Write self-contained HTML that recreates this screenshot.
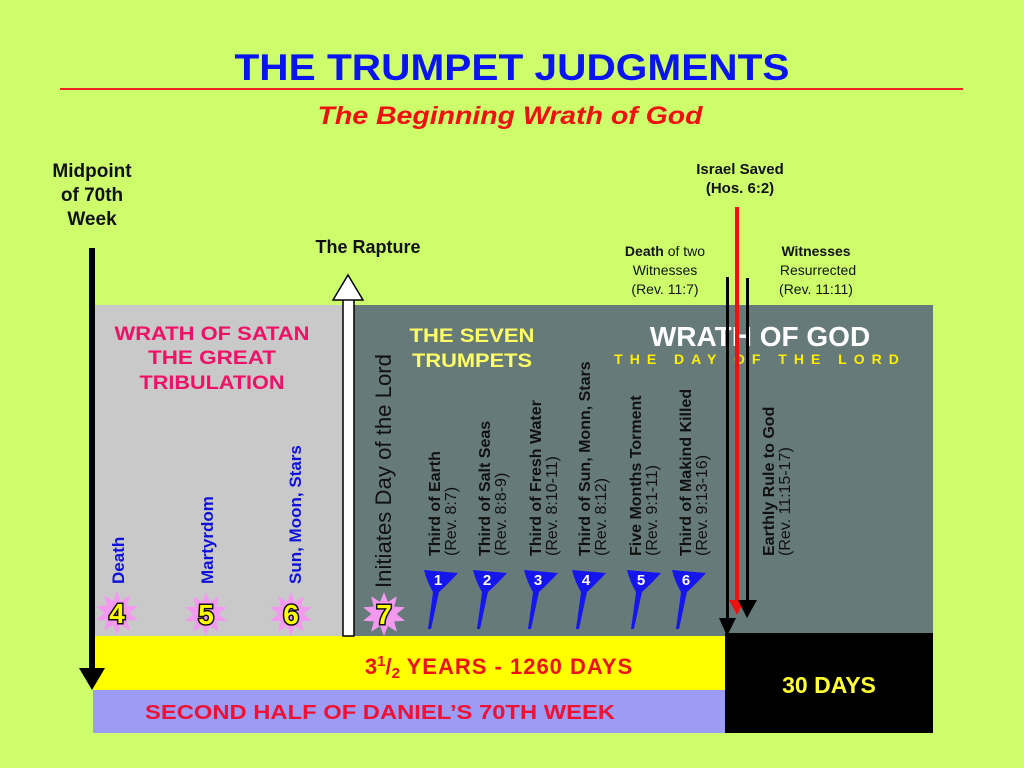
<!DOCTYPE html>
<html><head><meta charset="utf-8"><style>
html,body{margin:0;padding:0;background:#cdfd6a;}
svg{display:block;font-family:"Liberation Sans",Arial,sans-serif;}
</style></head><body>
<svg width="1024" height="768" viewBox="0 0 1024 768" xmlns="http://www.w3.org/2000/svg">
<defs>
<polygon id="star" points="0,-22 3.9,-12 12.9,-17.8 10.2,-7.4 20.9,-6.8 12.6,0 20.9,6.8 10.2,7.4 12.9,17.8 3.9,12 0,22 -3.9,12 -12.9,17.8 -10.2,7.4 -20.9,6.8 -12.6,0 -20.9,-6.8 -10.2,-7.4 -12.9,-17.8 -3.9,-12" fill="#f39af0"/>
<path id="flag" d="M0,0 L34,3 Q24,14 15,22 L7,59 L4,59 Q7,38 9,22 Q3,12 0,0 Z" fill="#1515ee"/>
</defs>
<rect width="1024" height="768" fill="#cdfd6a"/>
<text x="512" y="80" text-anchor="middle" font-size="37" font-weight="bold" fill="#0a14ee" textLength="555" lengthAdjust="spacingAndGlyphs">THE TRUMPET JUDGMENTS</text>
<rect x="60" y="88" width="903" height="2" fill="#ee2222"/>
<text x="510" y="124" text-anchor="middle" font-size="25" font-weight="bold" font-style="italic" fill="#ee1111" textLength="385" lengthAdjust="spacingAndGlyphs">The Beginning Wrath of God</text>

<g font-size="19" font-weight="bold" fill="#111" text-anchor="middle">
<text x="92" y="177">Midpoint</text><text x="92" y="201">of 70th</text><text x="92" y="225">Week</text>
<text x="368" y="253" font-size="18">The Rapture</text>
</g>
<g font-size="15" font-weight="bold" fill="#111" text-anchor="middle">
<text x="740" y="174">Israel Saved</text><text x="740" y="193">(Hos. 6:2)</text>
</g>
<g font-size="14" fill="#111" text-anchor="middle">
<text x="665" y="256"><tspan font-weight="bold">Death</tspan> of two</text>
<text x="665" y="275">Witnesses</text><text x="665" y="294">(Rev. 11:7)</text>
<text x="816" y="256" font-weight="bold">Witnesses</text>
<text x="818" y="275">Resurrected</text><text x="816" y="294">(Rev. 11:11)</text>
</g>

<rect x="93" y="305" width="252" height="331" fill="#c9c9c9"/>
<rect x="345" y="305" width="588" height="331" fill="#667a7a"/>
<rect x="93" y="636" width="632" height="54" fill="#ffff00"/>
<rect x="93" y="690" width="632" height="43" fill="#9c9cf4"/>
<rect x="725" y="633" width="208" height="100" fill="#000"/>

<g font-size="19" font-weight="bold" fill="#ee1166" text-anchor="middle" lengthAdjust="spacingAndGlyphs">
<text x="212" y="340" textLength="195" lengthAdjust="spacingAndGlyphs">WRATH OF SATAN</text><text x="212" y="364" textLength="128" lengthAdjust="spacingAndGlyphs">THE GREAT</text><text x="212" y="389" textLength="145" lengthAdjust="spacingAndGlyphs">TRIBULATION</text>
</g>
<g font-size="19" font-weight="bold" fill="#ffff66" text-anchor="middle">
<text x="472" y="342" textLength="125" lengthAdjust="spacingAndGlyphs">THE SEVEN</text><text x="472" y="367" textLength="120" lengthAdjust="spacingAndGlyphs">TRUMPETS</text>
</g>
<text x="760" y="346" text-anchor="middle" font-size="28" font-weight="bold" fill="#fff">WRATH OF GOD</text>
<text x="760" y="364" text-anchor="middle" font-size="14" font-weight="bold" fill="#ffee00" letter-spacing="7">THE DAY OF THE LORD</text>

<g font-size="17" font-weight="bold" fill="#1010dd">
<text transform="translate(124,584) rotate(-90)">Death</text>
<text transform="translate(213,584) rotate(-90)">Martyrdom</text>
<text transform="translate(301,584) rotate(-90)">Sun, Moon, Stars</text>
</g>
<text transform="translate(391,588) rotate(-90)" font-size="22" fill="#111" textLength="234" lengthAdjust="spacingAndGlyphs">Initiates Day of the Lord</text>

<g font-size="16" fill="#111">
<g transform="translate(440,556) rotate(-90)"><text font-weight="bold">Third of Earth</text><text y="16">(Rev. 8:7)</text></g>
<g transform="translate(490,556) rotate(-90)"><text font-weight="bold">Third of Salt Seas</text><text y="16">(Rev. 8:8-9)</text></g>
<g transform="translate(541,556) rotate(-90)"><text font-weight="bold">Third of Fresh Water</text><text y="16">(Rev. 8:10-11)</text></g>
<g transform="translate(590,556) rotate(-90)"><text font-weight="bold">Third of Sun, Monn, Stars</text><text y="16">(Rev. 8:12)</text></g>
<g transform="translate(641,556) rotate(-90)"><text font-weight="bold">Five Months Torment</text><text y="16">(Rev. 9:1-11)</text></g>
<g transform="translate(691,556) rotate(-90)"><text font-weight="bold">Third of Makind Killed</text><text y="16">(Rev. 9:13-16)</text></g>
<g transform="translate(774,556) rotate(-90)"><text font-weight="bold">Earthly Rule to God</text><text y="16">(Rev. 11:15-17)</text></g>
</g>

<g font-size="15" font-weight="bold" fill="#fff" text-anchor="middle">
<g transform="translate(424,570)"><use href="#flag"/><text x="14" y="15">1</text></g>
<g transform="translate(473,570)"><use href="#flag"/><text x="14" y="15">2</text></g>
<g transform="translate(524,570)"><use href="#flag"/><text x="14" y="15">3</text></g>
<g transform="translate(572,570)"><use href="#flag"/><text x="14" y="15">4</text></g>
<g transform="translate(627,570)"><use href="#flag"/><text x="14" y="15">5</text></g>
<g transform="translate(672,570)"><use href="#flag"/><text x="14" y="15">6</text></g>
</g>

<g font-size="28" font-weight="bold" fill="#ffff00" stroke="#111" stroke-width="3" text-anchor="middle" paint-order="stroke">
<g transform="translate(117,613)"><use href="#star" stroke="none"/><text y="10">4</text></g>
<g transform="translate(206,614)"><use href="#star" stroke="none"/><text y="10">5</text></g>
<g transform="translate(291,614)"><use href="#star" stroke="none"/><text y="10">6</text></g>
<g transform="translate(384,614)"><use href="#star" stroke="none"/><text y="10">7</text></g>
</g>

<rect x="89" y="248" width="6" height="425" fill="#000"/>
<polygon points="79,668 105,668 92,690" fill="#000"/>
<rect x="343" y="298" width="11" height="338" fill="#fff" stroke="#000" stroke-width="1.5"/>
<polygon points="333,300 348,275 363,300" fill="#fff" stroke="#000" stroke-width="1.5"/>
<rect x="726" y="277" width="3" height="345" fill="#000"/>
<polygon points="719,618 736,618 727,636" fill="#000"/>
<rect x="735" y="207" width="4" height="395" fill="#ee1111"/>
<polygon points="729,600 745,600 737,615" fill="#ee1111"/>
<rect x="746" y="278" width="3" height="324" fill="#000"/>
<polygon points="738,600 757,600 747,618" fill="#000"/>

<text x="499" y="674" text-anchor="middle" font-size="22" font-weight="bold" fill="#ee1111">3<tspan font-size="15" dy="-8">1</tspan><tspan dy="8">/</tspan><tspan font-size="15" dy="4">2</tspan><tspan dy="-4" letter-spacing="1"> YEARS - 1260 DAYS</tspan></text>
<text x="380" y="719" text-anchor="middle" font-size="20" font-weight="bold" fill="#ee1133" textLength="470" lengthAdjust="spacingAndGlyphs">SECOND HALF OF DANIEL’S 70TH WEEK</text>
<text x="829" y="693" text-anchor="middle" font-size="23" font-weight="bold" fill="#ffff33">30 DAYS</text>
</svg>
</body></html>
